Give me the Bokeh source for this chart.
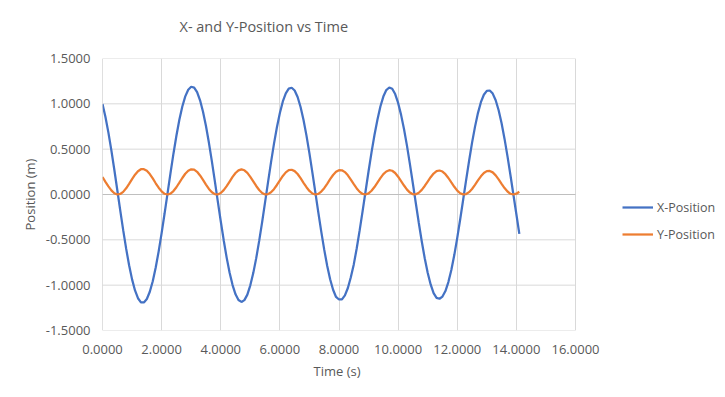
from bokeh.plotting import figure
from bokeh.models import (Range1d, FixedTicker, PrintfTickFormatter, Span,
                          Legend, LegendItem, Title, ColumnDataSource)
from bokeh.embed import file_html
from bokeh.resources import INLINE

# ---- data ----
time_s = [
    0.0, 0.1, 0.2, 0.3, 0.4, 0.5, 0.6, 0.7, 0.8, 0.9,
    1.0, 1.1, 1.2, 1.3, 1.4, 1.5, 1.6, 1.7, 1.8, 1.9,
    2.0, 2.1, 2.2, 2.3, 2.4, 2.5, 2.6, 2.7, 2.8, 2.9,
    3.0, 3.1, 3.2, 3.3, 3.4, 3.5, 3.6, 3.7, 3.8, 3.9,
    4.0, 4.1, 4.2, 4.3, 4.4, 4.5, 4.6, 4.7, 4.8, 4.9,
    5.0, 5.1, 5.2, 5.3, 5.4, 5.5, 5.6, 5.7, 5.8, 5.9,
    6.0, 6.1, 6.2, 6.3, 6.4, 6.5, 6.6, 6.7, 6.8, 6.9,
    7.0, 7.1, 7.2, 7.3, 7.4, 7.5, 7.6, 7.7, 7.8, 7.9,
    8.0, 8.1, 8.2, 8.3, 8.4, 8.5, 8.6, 8.7, 8.8, 8.9,
    9.0, 9.1, 9.2, 9.3, 9.4, 9.5, 9.6, 9.7, 9.8, 9.9,
    10.0, 10.1, 10.2, 10.3, 10.4, 10.5, 10.6, 10.7, 10.8, 10.9,
    11.0, 11.1, 11.2, 11.3, 11.4, 11.5, 11.6, 11.7, 11.8, 11.9,
    12.0, 12.1, 12.2, 12.3, 12.4, 12.5, 12.6, 12.7, 12.8, 12.9,
    13.0, 13.1, 13.2, 13.3, 13.4, 13.5, 13.6, 13.7, 13.8, 13.9,
    14.0, 14.1,
]

x_position = [
    0.997, 0.855, 0.682, 0.486, 0.273, 0.050, -0.175, -0.393, -0.597, -0.781,
    -0.936, -1.058, -1.144, -1.189, -1.191, -1.153, -1.073, -0.956, -0.805, -0.627,
    -0.426, -0.210, 0.013, 0.236, 0.450, 0.648, 0.824, 0.970, 1.082, 1.156,
    1.188, 1.179, 1.129, 1.039, 0.913, 0.755, 0.570, 0.365, 0.147, -0.075,
    -0.295, -0.504, -0.696, -0.863, -0.999, -1.101, -1.163, -1.185, -1.165, -1.104,
    -1.002, -0.867, -0.702, -0.512, -0.304, -0.085, 0.137, 0.354, 0.558, 0.742,
    0.899, 1.026, 1.116, 1.167, 1.177, 1.147, 1.075, 0.965, 0.821, 0.649,
    0.453, 0.242, 0.023, -0.197, -0.410, -0.608, -0.785, -0.934, -1.051, -1.130,
    -1.158, -1.156, -1.113, -1.031, -0.912, -0.771, -0.593, -0.393, -0.181, 0.039,
    0.256, 0.464, 0.656, 0.825, 0.970, 1.080, 1.152, 1.180, 1.166, 1.108,
    1.010, 0.878, 0.720, 0.536, 0.333, 0.119, -0.099, -0.314, -0.518, -0.703,
    -0.862, -0.992, -1.087, -1.140, -1.150, -1.126, -1.065, -0.966, -0.833, -0.668,
    -0.478, -0.273, -0.058, 0.159, 0.370, 0.569, 0.746, 0.898, 1.018, 1.100,
    1.143, 1.147, 1.113, 1.040, 0.929, 0.785, 0.613, 0.420, 0.212, -0.003,
    -0.218, -0.435,
]

y_position = [
    0.193, 0.140, 0.089, 0.045, 0.014, 0.000, 0.006, 0.029, 0.068, 0.117,
    0.169, 0.218, 0.257, 0.279, 0.279, 0.261, 0.225, 0.177, 0.124, 0.075,
    0.034, 0.008, 0.000, 0.010, 0.038, 0.080, 0.130, 0.182, 0.229, 0.262,
    0.278, 0.274, 0.250, 0.210, 0.161, 0.109, 0.061, 0.025, 0.004, 0.001,
    0.016, 0.048, 0.092, 0.143, 0.194, 0.237, 0.266, 0.277, 0.267, 0.238,
    0.195, 0.145, 0.094, 0.050, 0.017, 0.001, 0.004, 0.024, 0.059, 0.105,
    0.156, 0.205, 0.244, 0.268, 0.273, 0.258, 0.226, 0.180, 0.129, 0.080,
    0.039, 0.011, 0.000, 0.007, 0.032, 0.070, 0.118, 0.169, 0.215, 0.250,
    0.268, 0.267, 0.247, 0.211, 0.164, 0.114, 0.067, 0.029, 0.006, 0.000,
    0.012, 0.041, 0.082, 0.131, 0.180, 0.224, 0.254, 0.268, 0.262, 0.237,
    0.196, 0.148, 0.099, 0.054, 0.021, 0.003, 0.002, 0.019, 0.051, 0.094,
    0.143, 0.191, 0.231, 0.257, 0.265, 0.253, 0.224, 0.182, 0.133, 0.085,
    0.043, 0.014, 0.001, 0.005, 0.026, 0.061, 0.106, 0.155, 0.201, 0.237,
    0.258, 0.260, 0.244, 0.211, 0.167, 0.118, 0.071, 0.033, 0.008, 0.000,
    0.009, 0.030,
]

x_ticks = [0, 2, 4, 6, 8, 10, 12, 14, 16]
y_ticks = [-1.5, -1.0, -0.5, 0.0, 0.5, 1.0, 1.5]
X_MIN, X_MAX = 0, 16
Y_MIN, Y_MAX = -1.5, 1.5

TITLE = "X- and Y-Position vs Time"
X_LABEL = "Time (s)"
Y_LABEL = "Position (m)"
SERIES_NAMES = ["X-Position", "Y-Position"]

FONT = "Open Sans"
TXT = "#595959"

# layout: the axis area 0..16 is 473 px wide; the frame is widened to the
# right so that the legend (drawn inside the frame) can sit beside it.
AXIS_W = 473
FRAME_W = 617
x_view_end = X_MAX * FRAME_W / AXIS_W

src = ColumnDataSource(dict(t=time_s, x=x_position, y=y_position))

p = figure(frame_width=FRAME_W, frame_height=272, output_backend="svg",
           toolbar_location=None,
           x_range=Range1d(X_MIN, x_view_end), y_range=Range1d(Y_MIN, Y_MAX),
           min_border_left=102, min_border_right=2,
           min_border_top=58, min_border_bottom=59)
p.title_location = None

# chart title (a small spacer title sits between it and the frame)
p.add_layout(Title(text=" ", text_font_size="1px", standoff=15), "above")
p.add_layout(Title(text=TITLE, align="left", offset=77, standoff=10,
                   text_font=FONT, text_font_size="14.5px",
                   text_font_style="normal", text_color=TXT), "above")

p.outline_line_color = None
p.background_fill_color = "white"
p.border_fill_color = "white"

for ax, ticks in ((p.xaxis[0], x_ticks), (p.yaxis[0], y_ticks)):
    ax.ticker = FixedTicker(ticks=ticks)
    ax.formatter = PrintfTickFormatter(format="%.4f")
    ax.axis_line_color = None
    ax.major_tick_line_color = None
    ax.minor_tick_line_color = None
    ax.major_tick_out = 0
    ax.major_tick_in = 0
    ax.minor_tick_out = 0
    ax.major_label_text_font = FONT
    ax.major_label_text_font_size = "13px"
    ax.major_label_text_color = TXT
    ax.axis_label_text_font = FONT
    ax.axis_label_text_font_size = "13px"
    ax.axis_label_text_font_style = "normal"
    ax.axis_label_text_color = TXT

p.xaxis.bounds = (X_MIN, X_MAX)
p.yaxis.axis_label = Y_LABEL
p.xaxis.major_label_standoff = 14
p.yaxis.major_label_standoff = 12
p.yaxis.axis_label_standoff = 4

# x-axis title, centred under the 0..16 axis area
p.add_layout(Title(text=X_LABEL, align="left", offset=211, standoff=10,
                   vertical_align="top",
                   text_font=FONT, text_font_size="13px",
                   text_font_style="normal", text_color=TXT), "below")

# vertical gridlines (span the full y range)
p.xgrid.ticker = FixedTicker(ticks=x_ticks)
p.xgrid.grid_line_color = "#d9d9d9"
p.xgrid.grid_line_width = 1
# horizontal gridlines only across the 0..16 axis area
p.ygrid.visible = False
p.segment(x0=[X_MIN] * len(y_ticks), y0=y_ticks,
          x1=[X_MAX] * len(y_ticks), y1=y_ticks,
          line_color="#d9d9d9", line_width=1)
# axis lines at y=0 and x=0
p.segment(x0=[X_MIN], y0=[0], x1=[X_MAX], y1=[0], line_color="#bfbfbf", line_width=1)
p.add_layout(Span(location=X_MIN, dimension="height", line_color="#bfbfbf", line_width=1))

rx = p.line("t", "x", source=src, line_color="#4472C4", line_width=2.25)
ry = p.line("t", "y", source=src, line_color="#ED7D31", line_width=2.25)

legend = Legend(items=[LegendItem(label=SERIES_NAMES[0], renderers=[rx]),
                       LegendItem(label=SERIES_NAMES[1], renderers=[ry])],
                location=(520, 84), orientation="vertical",
                glyph_width=31, glyph_height=24, label_height=24, spacing=3,
                label_standoff=4, padding=0, margin=0,
                border_line_color=None, background_fill_alpha=0,
                label_text_font=FONT, label_text_font_size="12.5px",
                label_text_color=TXT)
p.add_layout(legend, "center")

open("out.html", "w").write(file_html(p, INLINE))
